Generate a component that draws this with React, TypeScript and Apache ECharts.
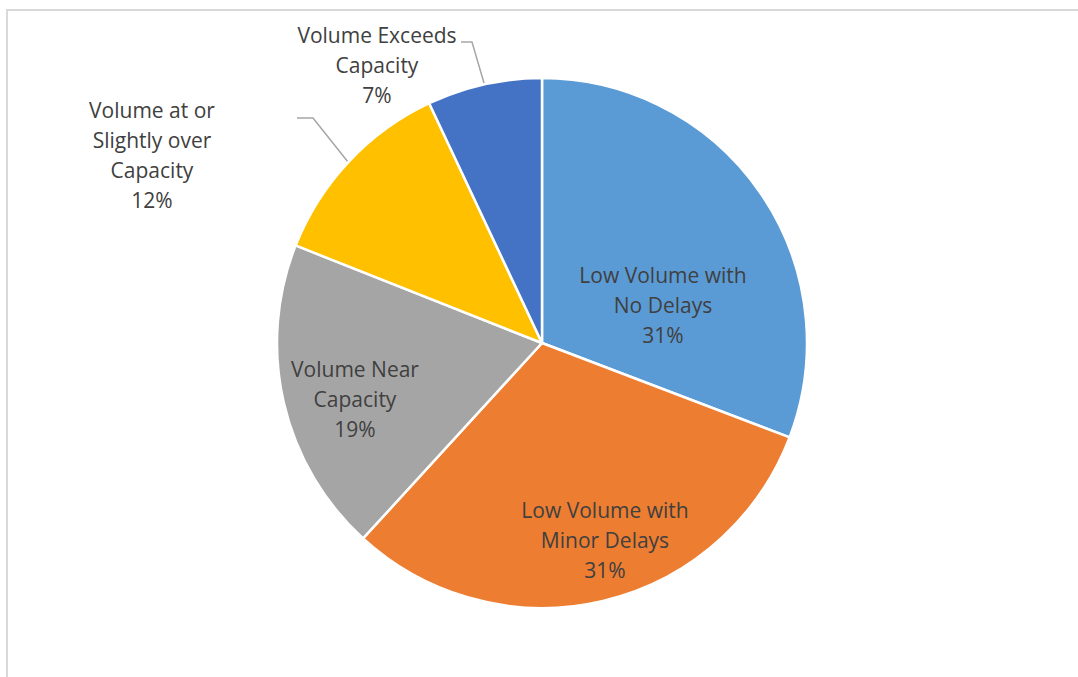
import React, { useEffect, useRef } from "react";
import * as echarts from "echarts";

const categories = [
  "Low Volume with\nNo Delays",
  "Low Volume with\nMinor Delays",
  "Volume Near\nCapacity",
  "Volume at or\nSlightly over\nCapacity",
  "Volume Exceeds\nCapacity",
];
const values = [30.8, 31.0, 19.2, 12.0, 7.0];
const colors = ["#5B9BD5", "#ED7D31", "#A5A5A5", "#FFC000", "#4472C4"];
const outsideLabel = [false, false, false, true, true];

// label layout (center of text block) and leader lines
const labelPos: [number, number][] = [
  [663, 305],
  [605, 540],
  [355, 399],
  [152, 155],
  [377, 65],
];
const leaderLines: ([number, number][] | null)[] = [
  null,
  null,
  null,
  [[348, 162], [313, 118], [297, 118]],
  [[484, 83], [472, 42], [461, 42]],
];

export default function App() {
  const ref = useRef<HTMLDivElement>(null);
  useEffect(() => {
    if (!ref.current) return;
    const chart = echarts.init(ref.current, undefined, { renderer: "svg" });
    chart.setOption({
      animation: false,
      backgroundColor: "transparent",
      series: [
        {
          type: "pie",
          center: [542, 343],
          radius: [0, 265],
          startAngle: 90,
          clockwise: true,
          avoidLabelOverlap: false,
          itemStyle: { borderColor: "#ffffff", borderWidth: 2.5 },
          label: {
            show: true,
            position: "outside",
            fontFamily: "'Open Sans', sans-serif",
            fontSize: 21,
            lineHeight: 30,
            color: "#404040",
            align: "center",
            formatter: (p: any) => `${p.name}\n${Math.round(p.percent)}%`,
          },
          labelLine: {
            show: true,
            lineStyle: { color: "#A6A6A6", width: 1.5 },
          },
          labelLayout: (params: any) => {
            const i = params.dataIndex;
            const [x, y] = labelPos[i];
            const res: any = { x, y, align: "center", verticalAlign: "middle" };
            if (leaderLines[i]) res.labelLinePoints = leaderLines[i];
            return res;
          },
          data: categories.map((name, i) => ({
            name,
            value: values[i],
            itemStyle: { color: colors[i] },
            labelLine: { show: outsideLabel[i] },
          })),
        },
      ],
    });
    return () => chart.dispose();
  }, []);
  return (
    <div style={{ position: "fixed", left: 0, top: 0, width: 1078, height: 677, overflow: "hidden", background: "#fff" }}>
      <div
        style={{
          position: "absolute",
          left: 6,
          top: 9,
          width: 1100,
          height: 700,
          border: "2px solid #D9D9D9",
          boxSizing: "border-box",
        }}
      />
      <div ref={ref} style={{ position: "absolute", left: 0, top: 0, width: 1078, height: 677 }} />
    </div>
  );
}
